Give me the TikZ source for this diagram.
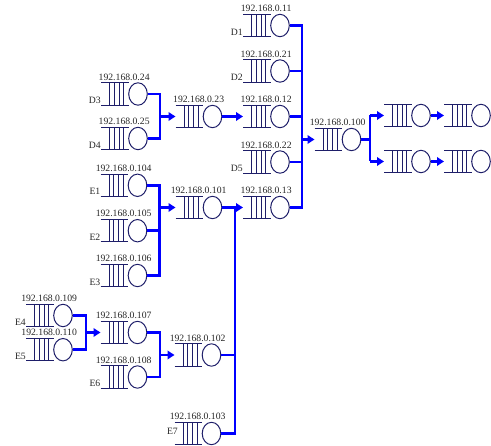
\documentclass[tikz,border=0pt]{standalone}
\usepackage{fontspec}
\setmainfont{Liberation Serif}
\usetikzlibrary{arrows.meta,shapes.geometric}
\definecolor{qcol}{RGB}{30,30,105}
\definecolor{conncol}{RGB}{0,0,255}
\tikzset{
  qline/.style={draw=qcol, line width=1pt},
  qserver/.style={qline, ellipse, minimum width=18.6pt, minimum height=22.4pt, inner sep=0pt},
  conn/.style={draw=conncol, line width=2.6pt, line join=miter},
  carrow/.style={conn, -{Triangle[length=7pt,width=8.5pt]}},
  iplab/.style={font=\fontsize{9.7}{11}\selectfont, text=black!85, inner sep=0pt, anchor=base},
  qtag/.style={font=\fontsize{9.7}{11}\selectfont, text=black!85, inner sep=0pt, anchor=base east},
}
% #1 name, #2 cx, #3 cy, #4 address label, #5 tag
\newcommand\qbox[5]{%
  \begin{scope}[shift={(#2,#3)}]
    \draw[qline] (-37,-11.2) -- (-9.3,-11.2) (-37,11.2) -- (-9.3,11.2);
    \foreach \i in {0,...,3} \draw[qline] (-28.5+\i*4.8,-11.2) -- (-28.5+\i*4.8,11.2);
    \node[qserver] (#1) at (0,0) {};
    \coordinate (#1-in) at (-37,0);
    \node[iplab] (#1-lab) at (-13.85,-13.7) {#4};
    \node[qtag] (#1-tag) at (-37,9.7) {#5};
  \end{scope}}
\begin{document}
\begin{tikzpicture}[x=1pt,y=-1pt]
\useasboundingbox (0,0) rectangle (491,446);
% D column
\qbox{q11}{280}{25.5}{192.168.0.11}{D1}
\qbox{q21}{280}{71}{192.168.0.21}{D2}
\qbox{q12}{280}{116.5}{192.168.0.12}{}
\qbox{q22}{280}{162}{192.168.0.22}{D5}
\qbox{q13}{280}{207.5}{192.168.0.13}{}
\qbox{q100}{351.5}{139.5}{192.168.0.100}{}
\qbox{qa}{421}{115.5}{}{}
\qbox{qb}{421}{161.5}{}{}
\qbox{qc}{481}{115.5}{}{}
\qbox{qd}{481}{161.5}{}{}
% D3/D4
\qbox{q24}{138}{94}{192.168.0.24}{D3}
\qbox{q25}{138}{138.5}{192.168.0.25}{D4}
\qbox{q23}{212.5}{116.5}{192.168.0.23}{}
% E group
\qbox{q104}{137.5}{185.3}{192.168.0.104}{E1}
\qbox{q105}{137.5}{230.7}{192.168.0.105}{E2}
\qbox{q106}{137.5}{275.5}{192.168.0.106}{E3}
\qbox{q101}{212.5}{207.5}{192.168.0.101}{}
\qbox{q109}{63}{315.5}{192.168.0.109}{E4}
\qbox{q110}{63}{349.7}{192.168.0.110}{E5}
\qbox{q107}{137.5}{332.5}{192.168.0.107}{}
\qbox{q108}{137.5}{377}{192.168.0.108}{E6}
\qbox{q102}{211.5}{355}{192.168.0.102}{}
\qbox{q103}{211.5}{433.5}{192.168.0.103}{}
\node[qtag] (q103-tag) at (178,435) {E7};
% junction coordinates
\coordinate (jD) at (302,0);
\coordinate (jR) at (370,0);
\coordinate (jA) at (160,0);
\coordinate (jB) at (159.5,0);
\coordinate (jC) at (235,0);
\coordinate (jE) at (86,0);
\coordinate (jF) at (160,0);
% D column to 0.100
\draw[conn] (q11.east) -- (q11.east -| jD) -- (q13.east -| jD) -- (q13.east);
\draw[conn] (q21.east) -- (q21.east -| jD);
\draw[conn] (q12.east) -- (q12.east -| jD);
\draw[conn] (q22.east) -- (q22.east -| jD);
\draw[carrow] (q100-in -| jD) -- (q100-in);
% 0.100 to right
\draw[conn] (q100.east) -- (q100.east -| jR);
\draw[conn] (qa-in -| jR) -- (qb-in -| jR);
\draw[carrow] (qa-in -| jR) -- (qa-in);
\draw[carrow] (qb-in -| jR) -- (qb-in);
\draw[carrow] (qa.east) -- (qc-in);
\draw[carrow] (qb.east) -- (qd-in);
% D3/D4 to 0.23
\draw[conn] (q24.east) -- (q24.east -| jA) -- (q25.east -| jA) -- (q25.east);
\draw[carrow] (q23-in -| jA) -- (q23-in);
\draw[carrow] (q23.east) -- (q12-in);
% E1-E3 to 0.101
\draw[conn] (q104.east) -- (q104.east -| jB) -- (q106.east -| jB) -- (q106.east);
\draw[conn] (q105.east) -- (q105.east -| jB);
\draw[carrow] (q101-in -| jB) -- (q101-in);
% 0.101, 0.102, 0.103 to 0.13
\draw[conn] (q101.east) -- (q101.east -| jC) -- (q103.east -| jC) -- (q103.east);
\draw[conn] (q102.east) -- (q102.east -| jC);
\draw[carrow] (q13-in -| jC) -- (q13-in);
% E4/E5 to 0.107
\draw[conn] (q109.east) -- (q109.east -| jE) -- (q110.east -| jE) -- (q110.east);
\draw[carrow] (q107-in -| jE) -- (q107-in);
% 0.107/0.108 to 0.102
\draw[conn] (q107.east) -- (q107.east -| jF) -- (q108.east -| jF) -- (q108.east);
\draw[carrow] (q102-in -| jF) -- (q102-in);
\end{tikzpicture}
\end{document}
